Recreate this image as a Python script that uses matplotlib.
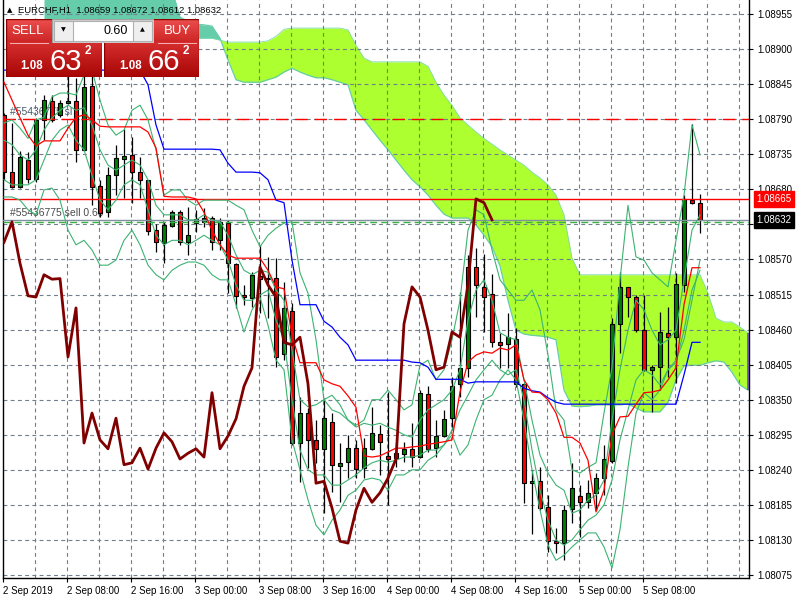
import numpy as np
import matplotlib
matplotlib.use("Agg")
import matplotlib.pyplot as plt
from matplotlib.patches import Rectangle

plt.rcParams['font.family'] = ['Liberation Sans', 'DejaVu Sans']

# ---------------- data (prices in points, 1 point = 0.00001) ----------------
symbol_title = "EURCHF,H1  1.08659 1.08672 1.08612 1.08632"
time_labels = ["2 Sep 2019", "2 Sep 08:00", "2 Sep 16:00", "3 Sep 00:00", "3 Sep 08:00",
               "3 Sep 16:00", "4 Sep 00:00", "4 Sep 08:00", "4 Sep 16:00", "5 Sep 00:00",
               "5 Sep 08:00"]
time_label_bars = [0, 8, 16, 24, 32, 40, 48, 56, 64, 72, 80]
price_ticks = [1.08955, 1.08900, 1.08845, 1.08790, 1.08735, 1.08680, 1.08625, 1.08570,
               1.08515, 1.08460, 1.08405, 1.08350, 1.08295, 1.08240, 1.08185, 1.08130,
               1.08075]

open_pts = [108797, 108707, 108684, 108726, 108696, 108789, 108819, 108797, 108815, 108819,
            108742, 108842, 108685, 108644, 108702, 108728, 108734, 108707, 108695, 108616,
            108596, 108622, 108644, 108597, 108627, 108629, 108635, 108600, 108627, 108563,
            108514, 108510, 108544, 108541, 108541, 108422, 108489, 108282, 108329, 108287,
            108273, 108315, 108246, 108252, 108274, 108243, 108273, 108296, 108262, 108258,
            108265, 108273, 108260, 108359, 108274, 108293, 108321, 108375, 108400, 108558,
            108527, 108516, 108440, 108437, 108445, 108375, 108219, 108222, 108182, 108128,
            108125, 108178, 108199, 108189, 108204, 108227, 108254, 108469, 108527, 108511,
            108459, 108397, 108401, 108455, 108448, 108530, 108663, 108659]
high_pts = [108800, 108784, 108740, 108739, 108792, 108828, 108828, 108820, 108859, 108855,
            108864, 108858, 108695, 108715, 108750, 108775, 108762, 108731, 108695, 108626,
            108629, 108648, 108648, 108652, 108648, 108651, 108638, 108635, 108632, 108564,
            108530, 108550, 108593, 108574, 108572, 108535, 108502, 108354, 108337, 108318,
            108353, 108329, 108282, 108295, 108287, 108290, 108339, 108310, 108362, 108282,
            108284, 108313, 108365, 108371, 108318, 108334, 108386, 108519, 108577, 108588,
            108579, 108547, 108455, 108486, 108462, 108376, 108240, 108244, 108200, 108149,
            108185, 108251, 108216, 108224, 108235, 108279, 108478, 108550, 108527, 108514,
            108514, 108404, 108488, 108495, 108549, 108671, 108782, 108672]
low_pts = [108695, 108682, 108682, 108690, 108691, 108757, 108786, 108793, 108814, 108723,
           108740, 108655, 108637, 108637, 108671, 108666, 108659, 108666, 108608, 108582,
           108564, 108621, 108593, 108577, 108613, 108621, 108585, 108585, 108517, 108494,
           108499, 108495, 108486, 108478, 108401, 108412, 108279, 108221, 108243, 108251,
           108172, 108205, 108189, 108227, 108227, 108227, 108271, 108232, 108185, 108244,
           108252, 108244, 108258, 108268, 108260, 108291, 108302, 108354, 108386, 108480,
           108456, 108433, 108400, 108400, 108370, 108188, 108139, 108177, 108111, 108110,
           108098, 108157, 108135, 108180, 108177, 108200, 108251, 108423, 108480, 108456,
           108395, 108331, 108365, 108386, 108376, 108519, 108657, 108612]
close_pts = [108707, 108684, 108731, 108696, 108789, 108820, 108789, 108815, 108819, 108742,
             108841, 108684, 108643, 108702, 108729, 108732, 108707, 108695, 108615, 108597,
             108624, 108644, 108597, 108608, 108633, 108635, 108597, 108629, 108564, 108513,
             108511, 108546, 108539, 108540, 108417, 108494, 108282, 108329, 108287, 108273,
             108321, 108248, 108251, 108274, 108241, 108274, 108298, 108284, 108257, 108266,
             108273, 108260, 108361, 108273, 108293, 108320, 108371, 108400, 108558, 108530,
             108511, 108440, 108436, 108448, 108375, 108219, 108222, 108180, 108128, 108125,
             108177, 108211, 108189, 108204, 108227, 108257, 108469, 108527, 108511, 108459,
             108397, 108401, 108456, 108448, 108531, 108665, 108659, 108632]

tenkan_pts = [108848, 108820, 108792, 108765, 108748, 108756, 108756, 108756, 108776, 108793,
              108797, 108789, 108779, 108778, 108778, 108778, 108778, 108778, 108770, 108745,
              108669, 108668, 108668, 108668, 108665, 108644, 108616, 108593, 108577, 108572,
              108572, 108572, 108572, 108553, 108527, 108524, 108451, 108408, 108408, 108408,
              108381, 108375, 108371, 108356, 108338, 108262, 108260, 108262, 108268, 108274,
              108274, 108276, 108277, 108280, 108282, 108284, 108287, 108362, 108409, 108420,
              108425, 108423, 108431, 108428, 108436, 108381, 108362, 108361, 108350, 108329,
              108291, 108291, 108282, 108255, 108174, 108208, 108295, 108323, 108324, 108343,
              108361, 108362, 108365, 108381, 108400, 108499, 108557, 108557]
kijun_pts = [108867, 108867, 108867, 108867, 108867, 108867, 108867, 108867, 108867, 108867,
             108867, 108867, 108867, 108867, 108867, 108867, 108867, 108867, 108844, 108781,
             108743, 108743, 108743, 108743, 108743, 108743, 108743, 108742, 108721, 108707,
             108707, 108707, 108706, 108695, 108663, 108659, 108569, 108499, 108499, 108499,
             108473, 108464, 108448, 108436, 108412, 108412, 108412, 108412, 108412, 108412,
             108412, 108409, 108408, 108401, 108382, 108382, 108382, 108382, 108376, 108378,
             108378, 108378, 108378, 108378, 108378, 108368, 108364, 108362, 108353, 108346,
             108343, 108343, 108343, 108343, 108343, 108343, 108343, 108343, 108343, 108343,
             108343, 108343, 108343, 108343, 108343, 108389, 108440, 108440]

span_first_bar = 5
span_a_pts = [108914, 108914, 108914, 108914, 108914, 108914, 108914, 108914, 108914, 108914,
              108914, 108914, 108914, 108914, 108914, 108914, 108914, 108914, 108916, 108917,
              108917, 108917, 108914, 108911, 108911, 108911, 108911, 108911, 108913, 108920,
              108931, 108933, 108933, 108933, 108933, 108933, 108933, 108933, 108930, 108906,
              108886, 108880, 108880, 108880, 108880, 108880, 108880, 108880, 108873, 108848,
              108828, 108812, 108792, 108781, 108770, 108760, 108751, 108742, 108734, 108726,
              108718, 108707, 108698, 108687, 108671, 108640, 108572, 108546, 108546, 108546,
              108546, 108546, 108546, 108546, 108546, 108546, 108546, 108546, 108546, 108546,
              108546, 108546, 108546, 108517, 108478, 108472, 108472, 108464, 108455]
span_b_pts = [108993, 108993, 108993, 108993, 108993, 108993, 108993, 108993, 108993, 108993,
              108993, 108993, 108993, 108993, 108993, 108993, 108993, 108950, 108944, 108939,
              108938, 108936, 108917, 108883, 108852, 108848, 108848, 108848, 108852, 108856,
              108864, 108870, 108864, 108859, 108855, 108855, 108852, 108848, 108844, 108804,
              108789, 108773, 108757, 108742, 108726, 108710, 108695, 108684, 108671, 108655,
              108641, 108635, 108635, 108635, 108624, 108608, 108590, 108560, 108506, 108459,
              108453, 108451, 108450, 108448, 108444, 108365, 108340, 108339, 108340, 108342,
              108342, 108342, 108342, 108343, 108337, 108331, 108331, 108331, 108346, 108381,
              108403, 108404, 108404, 108408, 108411, 108409, 108393, 108373, 108365]

band_upper_pts = [108784, 108789, 108776, 108760, 108789, 108793, 108825, 108831, 108831, 108828,
                  108859, 108867, 108820, 108781, 108765, 108773, 108804, 108812, 108789, 108742,
                  108671, 108679, 108679, 108663, 108655, 108663, 108663, 108663, 108663, 108655,
                  108648, 108616, 108590, 108608, 108619, 108627, 108629, 108549, 108517, 108444,
                  108350, 108357, 108342, 108318, 108310, 108318, 108350, 108350, 108365, 108350,
                  108334, 108342, 108404, 108412, 108381, 108397, 108444, 108506, 108616, 108648,
                  108640, 108585, 108538, 108522, 108506, 108506, 108522, 108491, 108420, 108334,
                  108318, 108240, 108235, 108244, 108251, 108329, 108401, 108538, 108655, 108574,
                  108569, 108549, 108538, 108527, 108600, 108671, 108781, 108734]
band_lower_pts = [108668, 108668, 108663, 108648, 108640, 108679, 108682, 108663, 108616, 108593,
                  108600, 108585, 108561, 108561, 108569, 108600, 108616, 108593, 108561, 108546,
                  108538, 108553, 108561, 108566, 108566, 108561, 108546, 108538, 108538, 108499,
                  108456, 108491, 108511, 108467, 108412, 108397, 108287, 108240, 108193, 108153,
                  108138, 108161, 108177, 108200, 108208, 108224, 108227, 108224, 108208, 108232,
                  108232, 108240, 108240, 108255, 108263, 108279, 108295, 108263, 108279, 108318,
                  108350, 108357, 108381, 108397, 108381, 108318, 108240, 108177, 108122, 108098,
                  108106, 108119, 108130, 108141, 108141, 108119, 108086, 108146, 108244, 108329,
                  108361, 108350, 108365, 108397, 108408, 108459, 108522, 108553]
inner_upper_pts = [108757, 108750, 108734, 108726, 108742, 108773, 108792, 108804, 108812, 108804,
                   108808, 108781, 108742, 108718, 108710, 108718, 108726, 108718, 108695, 108655,
                   108640, 108640, 108640, 108632, 108632, 108640, 108632, 108629, 108608, 108577,
                   108553, 108546, 108553, 108550, 108522, 108506, 108428, 108350, 108339, 108342,
                   108350, 108334, 108329, 108318, 108307, 108313, 108310, 108313, 108307, 108302,
                   108295, 108291, 108318, 108334, 108342, 108350, 108365, 108397, 108475, 108522,
                   108538, 108506, 108455, 108448, 108444, 108381, 108318, 108263, 108235, 108216,
                   108208, 108172, 108177, 108193, 108200, 108224, 108318, 108397, 108459, 108506,
                   108491, 108459, 108436, 108444, 108459, 108538, 108616, 108640]
inner_lower_pts = [108695, 108687, 108687, 108687, 108695, 108726, 108757, 108773, 108781, 108757,
                   108742, 108702, 108663, 108648, 108663, 108687, 108695, 108687, 108648, 108608,
                   108593, 108600, 108600, 108593, 108600, 108608, 108600, 108593, 108569, 108530,
                   108506, 108506, 108514, 108522, 108475, 108444, 108350, 108271, 108240, 108232,
                   108232, 108216, 108216, 108224, 108232, 108243, 108251, 108255, 108252, 108255,
                   108260, 108260, 108263, 108271, 108271, 108279, 108302, 108334, 108357, 108381,
                   108397, 108412, 108397, 108389, 108397, 108350, 108271, 108208, 108161, 108130,
                   108122, 108130, 108146, 108161, 108169, 108185, 108224, 108287, 108334, 108381,
                   108397, 108389, 108373, 108397, 108412, 108444, 108506, 108569]

chikou_shift = 26
stop_loss_price = 1.08790
alert_price = 1.08665
bid_price = 1.08632
order_price = 1.08629
order_label = "#55436775 sell 0.60"
sl_label = "#55436775 sl"
lot_text = "0.60"
sell_quote = ("1.08", "63", "2")
buy_quote = ("1.08", "66", "2")

# ---------------- conversions ----------------
o = np.array(open_pts) / 1e5
h = np.array(high_pts) / 1e5
l = np.array(low_pts) / 1e5
c = np.array(close_pts) / 1e5
n = len(c)
bars = np.arange(n)
tenkan = np.array(tenkan_pts) / 1e5
kijun = np.array(kijun_pts) / 1e5
span_a = np.array(span_a_pts) / 1e5
span_b = np.array(span_b_pts) / 1e5
span_x = np.arange(span_first_bar, span_first_bar + len(span_a))
green_lines = [np.array(v) / 1e5 for v in (band_upper_pts, band_lower_pts,
                                            inner_upper_pts, inner_lower_pts)]

# ---------------- figure ----------------
W, H = 800, 600
fig = plt.figure(figsize=(8, 6), dpi=100)
fig.patch.set_facecolor('white')
ax = fig.add_axes([3 / W, 22 / H, 746 / W, 578 / H])
ax.set_facecolor('white')
ax.set_xlim(-0.125, 93.125)
ax.set_ylim(1.080703, 1.089770)

ax.spines['top'].set_visible(False)
for side in ['left', 'right', 'bottom']:
    ax.spines[side].set_color('black')
    ax.spines[side].set_linewidth(1.0)

# cloud
ax.fill_between(span_x, span_a, span_b, where=span_a >= span_b, interpolate=True,
                color='#ADFF2F', linewidth=0, zorder=1)
ax.fill_between(span_x, span_a, span_b, where=span_a < span_b, interpolate=True,
                color='#66CDAA', linewidth=0, zorder=1)
ax.plot(span_x, span_b, color='#66CDAA', lw=0.9, zorder=1.2)
ax.plot(span_x, span_a, color='#7FD9B0', lw=0.6, zorder=1.2)
ax.vlines(span_x[-1] - 0.05, span_b[-1], span_a[-1], color='#7B3FE4', lw=1.2, zorder=1.3)

# grid
grid_kw = dict(color='#6F7F90', lw=0.8, dashes=(3.5, 3), zorder=1.5)
for p in price_ticks:
    ax.axhline(p, **grid_kw)
for gb in range(4, 93, 4):
    ax.axvline(gb - 0.1, **grid_kw)

# order labels (behind candles)
ax.annotate(sl_label, xy=(0.009, stop_loss_price), xycoords=('axes fraction', 'data'),
            xytext=(0, 1.5), textcoords='offset points', ha='left', va='bottom',
            fontsize=7.5, color='#4A5A6A', zorder=1.8)
ax.annotate(order_label, xy=(0.009, order_price), xycoords=('axes fraction', 'data'),
            xytext=(0, 2.5), textcoords='offset points', ha='left', va='bottom',
            fontsize=7.5, color='#4A4A4A', zorder=1.8)

# candles
body_w = 0.62
ax.vlines(bars, l, h, color='black', lw=0.9, zorder=3)
for i in bars:
    lo_b = min(o[i], c[i])
    hgt = max(abs(c[i] - o[i]), 0.000012)
    col = '#008000' if c[i] >= o[i] else '#FF0000'
    ax.add_patch(Rectangle((i - body_w / 2, lo_b), body_w, hgt, facecolor=col,
                           edgecolor='black', lw=0.8, zorder=3.1))

# trade lines
ax.axhline(stop_loss_price, color='#FF0000', lw=1.0, dashes=(9, 5), zorder=4)
ax.axhline(alert_price, color='#FF0000', lw=1.0, zorder=4)
ax.axhline(bid_price, color='#8090A0', lw=1.0, zorder=4)
ax.axhline(order_price, color='#3CB043', lw=1.0, dashes=(5, 3), zorder=4)

# indicators
for g in green_lines:
    ax.plot(bars, g, color='#3CB371', lw=0.8, zorder=5)
ax.plot(bars, kijun, color='#0000FF', lw=0.9, zorder=5.1)
ax.plot(bars, tenkan, color='#FF0000', lw=0.9, zorder=5.2)
ax.plot(bars[:-chikou_shift], c[chikou_shift:], color='#800000', lw=2.0, zorder=5.3,
        solid_joinstyle='round')

# axes ticks
ax.yaxis.tick_right()
ax.set_yticks(price_ticks)
ax.set_yticklabels([f"{p:.5f}" for p in price_ticks])
ax.tick_params(axis='y', direction='out', length=3, width=0.8, pad=3.2, labelsize=7,
               colors='black')
ax.set_xticks([b - 0.1 for b in time_label_bars])
ax.set_xticklabels(time_labels)
for lbl in ax.get_xticklabels():
    lbl.set_horizontalalignment('left')
ax.tick_params(axis='x', direction='out', length=3, width=0.8, pad=2.5, labelsize=7,
               colors='black')

# price labels on axis
for price, fc in [(alert_price, '#FF0000'), (bid_price, '#000000')]:
    ax.annotate(f"{price:.5f}", xy=(1.0, price), xycoords=('axes fraction', 'data'),
                xytext=(5.2, 0), textcoords='offset points', ha='left', va='center',
                fontsize=7, color='white', zorder=10, annotation_clip=False,
                bbox=dict(boxstyle='square,pad=0.28', fc=fc, ec=fc))

# title
def fx(x):
    return x / W

def fy(y):
    return 1 - y / H

fig.text(fx(10), fy(10), "\u25B2", fontsize=5, ha='center', va='center', color='black',
         family='DejaVu Sans', zorder=20)
fig.text(fx(18), fy(10), symbol_title, fontsize=6.8, ha='left', va='center', color='black',
         zorder=20)

# trade panel
def grad_block(x0, y0, w, hgt, split):
    a = fig.add_axes([fx(x0), fy(y0 + hgt), w / W, hgt / H])
    a.set_zorder(30)
    rows = hgt
    img = np.zeros((rows, 2, 3))
    for r in range(rows):
        if r < split:
            t = r / max(split - 1, 1)
            col = np.array([236, 78, 78]) * (1 - t) + np.array([206, 38, 38]) * t
        else:
            t = (r - split) / max(rows - split - 1, 1)
            col = np.array([214, 46, 46]) * (1 - t) + np.array([168, 6, 6]) * t
        img[r, :, :] = col / 255
    a.imshow(img, extent=(0, 1, 0, 1), aspect='auto', interpolation='bilinear')
    a.add_patch(Rectangle((0, 0), 1, 1, fill=False, ec='#8B0000', lw=1.0,
                          transform=a.transAxes))
    a.set_xticks([])
    a.set_yticks([])
    for s in a.spines.values():
        s.set_visible(False)
    return a

grad_block(6, 19, 96, 58, 23)
grad_block(104, 19, 95, 58, 23)

# lot box
lot = fig.add_axes([fx(52), fy(43), 102 / W, 24 / H])
lot.set_zorder(31)
lot.set_xlim(0, 102)
lot.set_ylim(24, 0)
lot.add_patch(Rectangle((0, 0), 102, 24, fc='#D8D8D8', ec='#A0A0A0', lw=1))
lot.add_patch(Rectangle((2, 2), 98, 20, fc='white', ec='#B0B0B0', lw=0.8))
lot.add_patch(Rectangle((2, 2), 19, 20, fc='#EFEFEF', ec='#B0B0B0', lw=0.8))
lot.add_patch(Rectangle((81, 2), 19, 20, fc='#EFEFEF', ec='#B0B0B0', lw=0.8))
lot.text(11.5, 11, "\u25BC", fontsize=4.5, ha='center', va='center', family='DejaVu Sans')
lot.text(90.5, 11, "\u25B2", fontsize=4.5, ha='center', va='center', family='DejaVu Sans')
lot.text(76, 12, lot_text, fontsize=9, ha='right', va='center', color='black')
lot.axis('off')

# panel texts
fig.text(fx(28), fy(31), "SELL", fontsize=9.5, ha='center', va='center', color='white', zorder=40)
fig.text(fx(177), fy(31), "BUY", fontsize=9.5, ha='center', va='center', color='white', zorder=40)
fig.add_artist(plt.Line2D([fx(10), fx(48)], [fy(42.5), fy(42.5)], color='#F4B0B0', lw=0.7,
                          zorder=40))
fig.add_artist(plt.Line2D([fx(158), fx(196)], [fy(42.5), fy(42.5)], color='#F4B0B0', lw=0.7,
                          zorder=40))
for (small, big, sup), xs, xb, xp in [(sell_quote, 32, 65.5, 88), (buy_quote, 130.5, 163.5, 185.5)]:
    fig.text(fx(xs), fy(66), small, fontsize=8.3, fontweight='bold', ha='center', va='center',
             color='white', zorder=40)
    fig.text(fx(xb), fy(61.5), big, fontsize=21, ha='center', va='center', color='white',
             zorder=40)
    fig.text(fx(xp), fy(51.5), sup, fontsize=8.5, fontweight='bold', ha='center', va='center',
             color='white', zorder=40)

fig.savefig("out.png", dpi=100, facecolor='white')
